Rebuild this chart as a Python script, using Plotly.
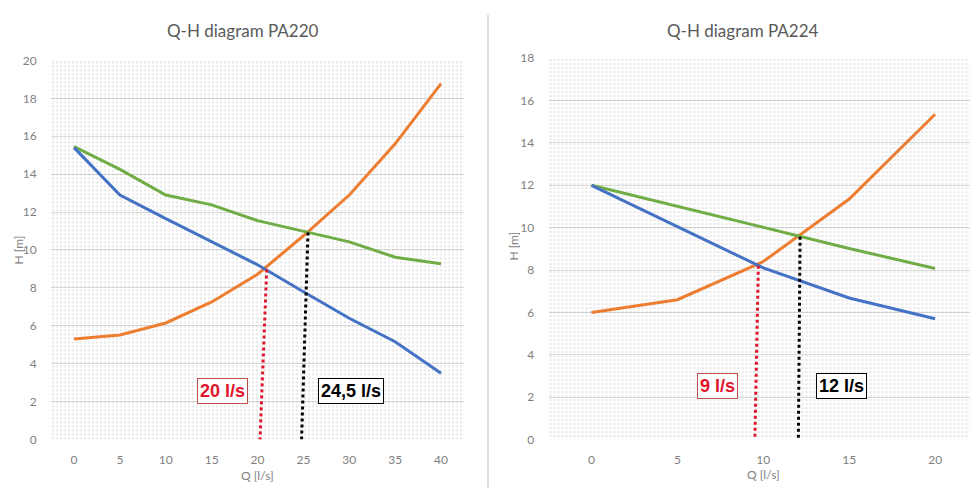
import plotly.graph_objects as go

# Flow rates (l/s) for the two pumps
q_pa220 = [0, 5, 10, 15, 20, 25, 30, 35, 40]
q_pa224 = [0, 5, 10, 15, 20]

# PA220 head curves (m)
h220_blue = [15.4, 12.9, 11.65, 10.45, 9.22, 7.8, 6.4, 5.16, 3.5]
h220_green = [15.45, 14.25, 12.9, 12.38, 11.55, 10.97, 10.43, 9.62, 9.28]
h220_orange = [5.3, 5.52, 6.15, 7.26, 8.72, 10.75, 12.9, 15.6, 18.77]

# PA224 head curves (m)
h224_blue = [12.0, 10.05, 8.1, 6.68, 5.7]
h224_green = [12.0, 11.0, 10.02, 9.02, 8.07]
h224_orange = [6.0, 6.6, 8.4, 11.35, 15.35]

# Operating-point readout lines (top at the curve crossing, bottom on the Q axis)
op220_red_q, op220_red_h = [21.0, 20.27], [8.97, 0]
op220_blk_q, op220_blk_h = [25.5, 24.8], [10.92, 0]
op224_red_q, op224_red_h = [9.71, 9.51], [8.2, 0]
op224_blk_q, op224_blk_h = [12.14, 12.04], [9.57, 0]

# Readout labels
lab220 = ["20 l/s", "24,5 l/s"]
lab224 = ["9 l/s", "12 l/s"]

# Axis ranges
x220_range = [-2.5, 42.5]
y220_range = [0, 20]
x224_range = [-2.5, 22.03]
y224_range = [0, 18]

BLUE = "#4472C4"
ORANGE = "#ED7D31"
GREEN = "#70AD47"
RED = "#E0142A"
TICK = "#7f7f7f"
TITLE = "#595959"
FONT = "Lato, Open Sans, sans-serif"

fig = go.Figure()


def pattern_bg(xr, yr, xa, ya):
    # dotted plot-area fill
    fig.add_trace(go.Scatter(
        x=[xr[0], xr[1], xr[1], xr[0], xr[0]],
        y=[yr[0], yr[0], yr[1], yr[1], yr[0]],
        xaxis=xa, yaxis=ya, mode="lines", line=dict(width=0),
        fill="toself", fillcolor="rgba(0,0,0,0)",
        fillpattern=dict(shape=".", size=4, solidity=0.09,
                         fgcolor="#707070", bgcolor="rgba(0,0,0,0)"),
        hoverinfo="skip", showlegend=False))


def curve(q, h, color, xa, ya):
    fig.add_trace(go.Scatter(x=q, y=h, xaxis=xa, yaxis=ya, mode="lines",
                             line=dict(color=color, width=3),
                             showlegend=False))


def readout(q, h, color, xa, ya):
    fig.add_trace(go.Scatter(x=q, y=h, xaxis=xa, yaxis=ya, mode="lines",
                             line=dict(color=color, width=3, dash="dot"),
                             showlegend=False))


pattern_bg(x220_range, y220_range, "x", "y")
pattern_bg(x224_range, y224_range, "x2", "y2")

curve(q_pa220, h220_orange, ORANGE, "x", "y")
curve(q_pa220, h220_green, GREEN, "x", "y")
curve(q_pa220, h220_blue, BLUE, "x", "y")
readout(op220_red_q, op220_red_h, RED, "x", "y")
readout(op220_blk_q, op220_blk_h, "#000000", "x", "y")

curve(q_pa224, h224_orange, ORANGE, "x2", "y2")
curve(q_pa224, h224_green, GREEN, "x2", "y2")
curve(q_pa224, h224_blue, BLUE, "x2", "y2")
readout(op224_red_q, op224_red_h, RED, "x2", "y2")
readout(op224_blk_q, op224_blk_h, "#000000", "x2", "y2")

tickfont = dict(family=FONT, size=12, color=TICK)
xcommon = dict(showgrid=False, zeroline=False, showline=False,
               ticks="outside", ticklen=9, tickcolor="rgba(0,0,0,0)",
               tickfont=tickfont, fixedrange=True)
ycommon = dict(showgrid=True, gridcolor="#d9d9d9", gridwidth=1,
               zeroline=False, showline=False, ticks="outside", ticklen=11,
               tickcolor="rgba(0,0,0,0)", tickfont=tickfont, dtick=2,
               fixedrange=True)

fig.update_layout(
    width=970, height=497,
    margin=dict(l=0, r=0, t=0, b=0),
    paper_bgcolor="white", plot_bgcolor="white",
    xaxis=dict(domain=[0.0527, 0.4783], range=x220_range, anchor="y",
               tickvals=q_pa220, **xcommon),
    yaxis=dict(domain=[0.1046, 0.8913], range=y220_range, anchor="x",
               **ycommon),
    xaxis2=dict(domain=[0.5655, 1.0], range=x224_range, anchor="y2",
                tickvals=q_pa224, **xcommon),
    yaxis2=dict(domain=[0.1046, 0.896], range=y224_range, anchor="x2",
                **ycommon),
)

annotations = []


def paper_text(txt, xp, yp, size, color, angle=0):
    annotations.append(dict(text=txt, x=xp / 970, y=1 - yp / 497,
                            xref="paper", yref="paper", showarrow=False,
                            xanchor="center", yanchor="middle",
                            textangle=angle,
                            font=dict(family=FONT, size=size, color=color)))


# chart titles
paper_text("Q-H diagram PA220", 243, 23, 17, TITLE)
paper_text("Q-H diagram PA224", 743, 23, 17, TITLE)
# axis titles
paper_text("H [m]", 18, 250, 12, TICK, -90)
paper_text("H [m]", 514, 246, 12, TICK, -90)
paper_text("Q [l/s]", 257, 482, 12, TICK)
paper_text("Q [l/s]", 763, 481, 12, TICK)

# readout boxes
boxes = [
    (lab220[0], 16.13, 2.58, "x", "y", RED, "#C0504D"),
    (lab220[1], 30.24, 2.58, "x", "y", "#000000", "#000000"),
    (lab224[0], 7.34, 2.52, "x2", "y2", RED, "#C0504D"),
    (lab224[1], 14.54, 2.54, "x2", "y2", "#000000", "#000000"),
]
for txt, xv, yv, xa, ya, col, bcol in boxes:
    annotations.append(dict(text=f"<b>{txt}</b>", x=xv, y=yv, xref=xa, yref=ya,
                            showarrow=False, bgcolor="white",
                            xanchor="center", yanchor="middle",
                            bordercolor=bcol, borderwidth=1, borderpad=2,
                            font=dict(family="Liberation Sans, Arial",
                                      size=18, color=col)))
fig.update_layout(annotations=annotations)

# divider between the two charts
fig.add_shape(type="line", xref="paper", yref="paper",
              x0=488 / 970, x1=488 / 970, y0=2 / 497, y1=1 - 7 / 497,
              line=dict(color="#dcdcdc", width=2))

fig.write_html("out.html")
